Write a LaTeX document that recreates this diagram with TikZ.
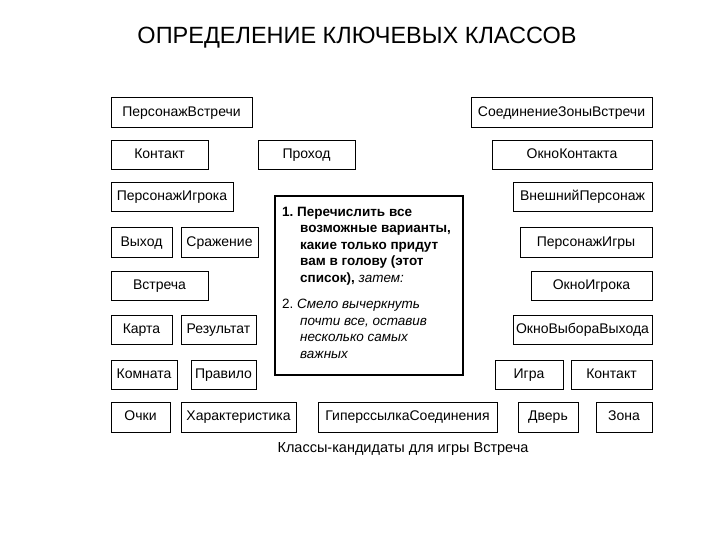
\documentclass[tikz,border=0pt]{standalone}
\usepackage{fontspec}
\setmainfont{Liberation Sans}
\begin{document}
\begin{tikzpicture}[x=1pt,y=-1pt,
  cls/.style={draw,line width=1pt,inner sep=0pt,text height=10pt,text depth=3pt,font=\fontsize{14}{16}\selectfont},
]
\useasboundingbox (0,0) rectangle (720,540);
\newcommand\bx[6]{\node[cls,minimum width=#4-#2,minimum height=#5-#3] (#1) at ({(#2+#4)/2},{(#3+#5)/2}) {#6};}
\node (title) at (357,38) {\fontsize{23.5}{26}\selectfont ОПРЕДЕЛЕНИЕ КЛЮЧЕВЫХ КЛАССОВ};
\bx{a1}{111}{98}{252}{128}{ПерсонажВстречи}
\bx{a2}{111}{141}{208}{170}{Контакт}
\bx{a3}{111}{183}{233}{212}{ПерсонажИгрока}
\bx{a4}{111}{228}{172}{257}{Выход}
\bx{a5}{181}{228}{258}{257}{Сражение}
\bx{a6}{111}{271}{208}{300}{Встреча}
\bx{a7}{111}{315}{172}{344}{Карта}
\bx{a8}{181}{315}{256}{344}{Результат}
\bx{a9}{111}{360}{177}{389}{Комната}
\bx{a10}{191}{360}{256}{389}{Правило}
\bx{a11}{111}{402}{170}{432}{Очки}
\bx{a12}{181}{402}{296}{432}{Характеристика}
\bx{a13}{318}{402}{497}{432}{ГиперссылкаСоединения}
\bx{a14}{258}{141}{355}{170}{Проход}
\bx{b1}{471}{98}{652}{128}{СоединениеЗоныВстречи}
\bx{b2}{492}{141}{652}{170}{ОкноКонтакта}
\bx{b3}{513}{183}{652}{212}{ВнешнийПерсонаж}
\bx{b4}{520}{228}{652}{257}{ПерсонажИгры}
\bx{b5}{531}{271}{652}{300}{ОкноИгрока}
\bx{b6}{513}{315}{652}{344}{ОкноВыбораВыхода}
\bx{b7}{495}{360}{563}{389}{Игра}
\bx{b8}{571}{360}{652}{389}{Контакт}
\bx{b9}{518}{402}{578}{432}{Дверь}
\bx{b10}{596}{402}{652}{432}{Зона}
\node[draw,line width=1.6pt,minimum width=188pt,minimum height=179pt] (c) at (369,285.5) {};
\node[anchor=north west,inner sep=0pt,align=left,font=\fontsize{13.5}{16.5}\selectfont] (ct) at (282,207) {%
\textbf{1.\ Перечислить все}\\
\hspace*{18pt}\textbf{возможные варианты,}\\
\hspace*{18pt}\textbf{какие только придут}\\
\hspace*{18pt}\textbf{вам в голову (этот}\\
\hspace*{18pt}\textbf{список),} \textit{затем:}\\[10pt]
2.\ \textit{Смело вычеркнуть}\\
\hspace*{18pt}\textit{почти все, оставив}\\
\hspace*{18pt}\textit{несколько самых}\\
\hspace*{18pt}\textit{важных}};
\node (cap) at (403,449) {\fontsize{14.5}{16}\selectfont Классы-кандидаты для игры Встреча};
\end{tikzpicture}
\end{document}
